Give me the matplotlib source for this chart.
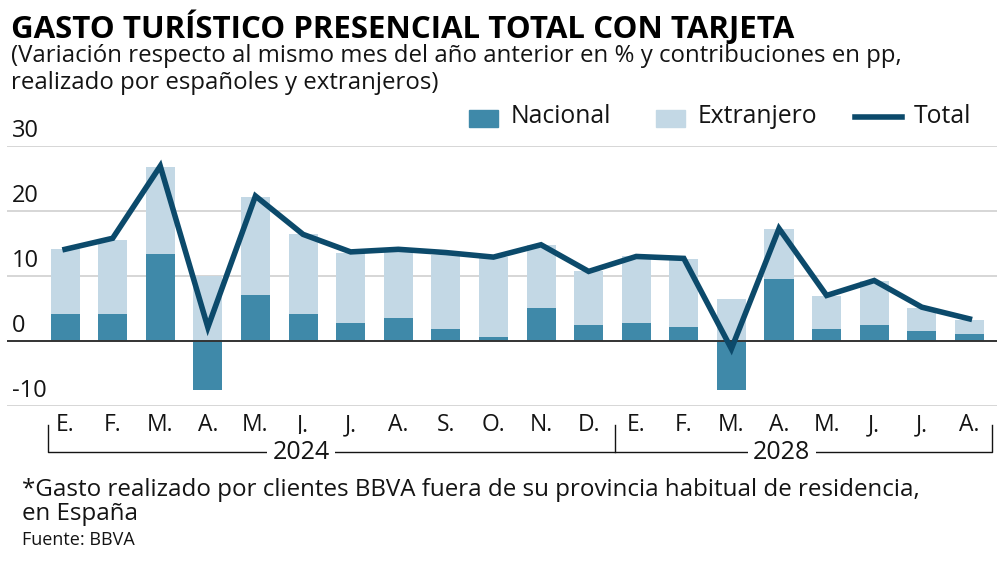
import matplotlib.pyplot as plt
import matplotlib.transforms as mtransforms
from matplotlib.patches import Rectangle
from matplotlib.lines import Line2D

plt.rcParams["font.family"] = ["Open Sans", "DejaVu Sans"]

# --- Data ---
months = ["E.", "F.", "M.", "A.", "M.", "J.", "J.", "A.", "S.", "O.", "N.", "D.",
          "E.", "F.", "M.", "A.", "M.", "J.", "J.", "A."]
years = ["2024", "2028"]
nacional = [4.1, 4.1, 13.4, -7.5, 7.1, 4.1, 2.8, 3.5, 1.8, 0.6, 5.0, 2.5,
            2.8, 2.1, -7.5, 9.6, 1.8, 2.4, 1.5, 1.0]
extranjero = [10.1, 11.5, 13.4, 10.0, 15.1, 12.3, 10.8, 10.2, 11.5, 12.3, 9.7, 8.2,
              10.2, 10.5, 6.4, 7.7, 5.1, 6.9, 3.6, 2.3]
total = [14.1, 15.8, 26.9, 2.1, 22.3, 16.4, 13.7, 14.1, 13.6, 12.9, 14.8, 10.7,
         13.0, 12.7, -1.2, 17.3, 7.0, 9.3, 5.2, 3.4]

C_NAC = "#3f89a9"
C_EXT = "#c3d8e5"
C_TOT = "#0c4a6b"
C_TXT = "#141414"

fig = plt.figure(figsize=(10, 5.67), dpi=100)
ax = fig.add_axes([0.007, 0.284, 0.99, 0.4586])

x = list(range(len(months)))
# Extranjero stacks on top of the positive part of Nacional
ext_bottom = [max(n, 0) for n in nacional]
ax.bar(x, nacional, width=0.61, color=C_NAC, zorder=2)
ax.bar(x, extranjero, bottom=ext_bottom, width=0.61, color=C_EXT, zorder=2)
ax.plot(x, total, color=C_TOT, lw=4, solid_joinstyle="miter", zorder=4)

ax.set_xlim(-1.22, 19.58)
ax.set_ylim(-10, 30)
for s in ax.spines.values():
    s.set_visible(False)
ax.set_yticks([])
for v in [-10, 10, 20, 30]:
    ax.axhline(v, color="#cfcfcf", lw=1.2, zorder=1)
ax.axhline(0, color="#333333", lw=1.4, zorder=3)

ytr = mtransforms.blended_transform_factory(fig.transFigure, ax.transData)
for v in [-10, 0, 10, 20, 30]:
    ax.text(0.012, v + 0.5, f"{v}", transform=ytr, ha="left", va="bottom",
            fontsize=17, color=C_TXT)

# month labels
xf = mtransforms.blended_transform_factory(ax.transData, fig.transFigure)
ax.set_xticks([])
for i, m in enumerate(months):
    ax.text(i, 0.250, m, transform=xf, ha="center", va="center",
            fontsize=16.5, color=C_TXT)

# year bracket
yb, yt = 0.2028, 0.2504
ax.plot([-0.36, -0.36, 19.47, 19.47], [yt, yb, yb, yt], transform=xf,
        color=C_TXT, lw=1, clip_on=False)
ax.plot([11.55, 11.55], [yt, yb], transform=xf, color=C_TXT, lw=1, clip_on=False)
for xpos, yr in zip([4.96, 15.06], years):
    ax.text(xpos, yb, yr, transform=xf, ha="center", va="center", fontsize=18,
            color=C_TXT, bbox=dict(facecolor="white", edgecolor="none", pad=4))

# legend drawn in figure coordinates
W, H = 1000, 567
def fx(px):
    return px / W
def fy(py):
    return 1 - py / H
fig.patches.append(Rectangle((fx(469), fy(127)), 29 / W, 17 / H, color=C_NAC,
                             transform=fig.transFigure))
fig.text(fx(511), fy(117), "Nacional", ha="left", va="center", fontsize=17.8, color=C_TXT)
fig.patches.append(Rectangle((fx(656), fy(127)), 29 / W, 17 / H, color=C_EXT,
                             transform=fig.transFigure))
fig.text(fx(698), fy(117), "Extranjero", ha="left", va="center", fontsize=17.8, color=C_TXT)
fig.lines.append(Line2D([fx(855), fx(902)], [fy(117), fy(117)], color=C_TOT, lw=4,
                        transform=fig.transFigure))
fig.text(fx(914), fy(117), "Total", ha="left", va="center", fontsize=17.8, color=C_TXT)

# titles
fig.text(0.011, fy(38), "GASTO TURÍSTICO PRESENCIAL TOTAL CON TARJETA",
         ha="left", va="baseline", fontsize=22.5, fontweight="bold", color="#000000")
fig.text(0.011, fy(62), "(Variación respecto al mismo mes del año anterior en % y contribuciones en pp,",
         ha="left", va="baseline", fontsize=17.3, color=C_TXT)
fig.text(0.011, fy(89), "realizado por españoles y extranjeros)",
         ha="left", va="baseline", fontsize=17.3, color=C_TXT)

# footnotes
fig.text(0.022, fy(496), "*Gasto realizado por clientes BBVA fuera de su provincia habitual de residencia,",
         ha="left", va="baseline", fontsize=17.4, color=C_TXT)
fig.text(0.022, fy(520), "en España", ha="left", va="baseline", fontsize=17.4, color=C_TXT)
fig.text(0.022, fy(545), "Fuente: BBVA", ha="left", va="baseline", fontsize=13, color=C_TXT)

fig.savefig("out.png", dpi=100)
